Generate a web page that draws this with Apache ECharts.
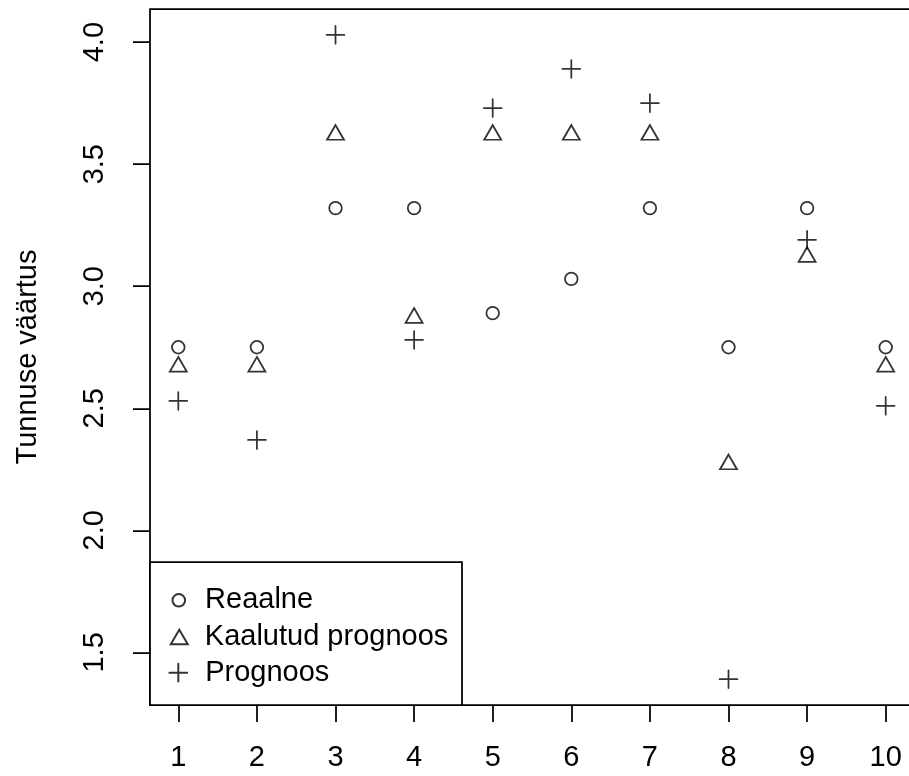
<!DOCTYPE html>
<html>
<head>
<meta charset="utf-8">
<script src="https://cdn.jsdelivr.net/npm/echarts@6/dist/echarts.min.js"></script>
<style>
  html, body { margin: 0; padding: 0; background: #fff; }
  #chart { width: 909px; height: 776px; }
</style>
</head>
<body>
<div id="chart"></div>
<script>
// Observation index on the x axis
const obs = [1, 2, 3, 4, 5, 6, 7, 8, 9, 10];
// Observed values and the two forecasts
const reaalne  = [2.75, 2.75, 3.32, 3.32, 2.89, 3.03, 3.32, 2.75, 3.32, 2.75];
const kaalutud = [2.67, 2.67, 3.62, 2.87, 3.62, 3.62, 3.62, 2.27, 3.12, 2.67];
const prognoos = [2.53, 2.37, 4.03, 2.78, 3.73, 3.89, 3.75, 1.39, 3.19, 2.51];
// Tick positions
const xTicks = [1, 2, 3, 4, 5, 6, 7, 8, 9, 10];
const yTicks = [1.5, 2.0, 2.5, 3.0, 3.5, 4.0];
const seriesNames = ['Reaalne', 'Kaalutud prognoos', 'Prognoos'];

// axis limits padded by 4% on each side, like base graphics
function padded(arr) {
  const lo = Math.min(...arr), hi = Math.max(...arr), d = (hi - lo) * 0.04;
  return [lo - d, hi + d];
}
const [xMin, xMax] = padded(obs);
const [yMin, yMax] = padded(reaalne.concat(kaalutud, prognoos));

const FONT = 'Liberation Sans, Arial, sans-serif';
const FS = 29;
const LW = 1.75;
const plusPath = 'path://M0,10 L20,10 M10,0 L10,20';

const pairs = ys => ys.map((y, i) => [obs[i], y]);
const hollow = { color: 'rgba(0,0,0,0)', borderColor: '#000', borderWidth: LW, borderCap: 'round' };

const legendText = pad => ({ fontFamily: FONT, fontSize: FS, color: '#000', padding: [0, 0, 0, pad] });
const legendBase = { orient: 'horizontal', padding: 0, itemGap: 0, selectedMode: false, z: 10 };

const option = {
  animation: false,
  backgroundColor: '#fff',
  grid: {
    left: 150, top: 9, width: 764, height: 696,
    outerBoundsMode: 'none', containLabel: false,
    show: true, borderColor: '#000', borderWidth: LW, backgroundColor: 'transparent'
  },
  xAxis: {
    type: 'value', min: xMin, max: xMax,
    axisLine: { show: false },
    splitLine: { show: false },
    axisTick: { show: true, customValues: xTicks, length: 17, lineStyle: { color: '#000', width: LW } },
    axisLabel: { customValues: xTicks, margin: 38.5, fontFamily: FONT, fontSize: FS, color: '#000' }
  },
  yAxis: {
    type: 'value', min: yMin, max: yMax,
    name: 'Tunnuse väärtus', nameLocation: 'middle', nameGap: 108, nameRotate: 90,
    nameTextStyle: { fontFamily: FONT, fontSize: FS, color: '#000' },
    axisLine: { show: false },
    splitLine: { show: false },
    axisTick: { show: true, customValues: yTicks, length: 17, lineStyle: { color: '#000', width: LW } },
    axisLabel: {
      customValues: yTicks, rotate: 90, margin: 40.5,
      fontFamily: FONT, fontSize: FS, color: '#000',
      formatter: v => v.toFixed(1)
    }
  },
  // legend frame in the lower-left corner of the plot
  graphic: [{
    type: 'rect', z: 5,
    shape: { x: 150, y: 562, width: 312, height: 143 },
    style: { fill: '#fff', stroke: '#000', lineWidth: LW }
  }],
  legend: [
    Object.assign({}, legendBase, {
      data: [seriesNames[0]], left: 171.5, top: 585.8,
      itemWidth: 12.6, itemHeight: 12.6, textStyle: legendText(15)
    }),
    Object.assign({}, legendBase, {
      data: [seriesNames[1]], left: 169.8, top: 622.5,
      itemWidth: 17, itemHeight: 14.7, textStyle: legendText(12)
    }),
    Object.assign({}, legendBase, {
      data: [seriesNames[2]], left: 168.4, top: 658.2,
      itemWidth: 17.8, itemHeight: 17.8, textStyle: legendText(13)
    })
  ],
  series: [
    {
      name: seriesNames[0], type: 'scatter', data: pairs(reaalne),
      symbol: 'circle', symbolSize: 12.6, itemStyle: hollow, z: 3
    },
    {
      name: seriesNames[1], type: 'scatter', data: pairs(kaalutud),
      symbol: 'triangle', symbolSize: [17, 14.7], symbolOffset: [0, -2.45], itemStyle: hollow, z: 3
    },
    {
      name: seriesNames[2], type: 'scatter', data: pairs(prognoos),
      symbol: plusPath, symbolSize: 17.8, itemStyle: hollow, z: 3
    }
  ]
};

const chart = echarts.init(document.getElementById('chart'), null, { renderer: 'canvas' });
chart.setOption(option);
</script>
</body>
</html>
